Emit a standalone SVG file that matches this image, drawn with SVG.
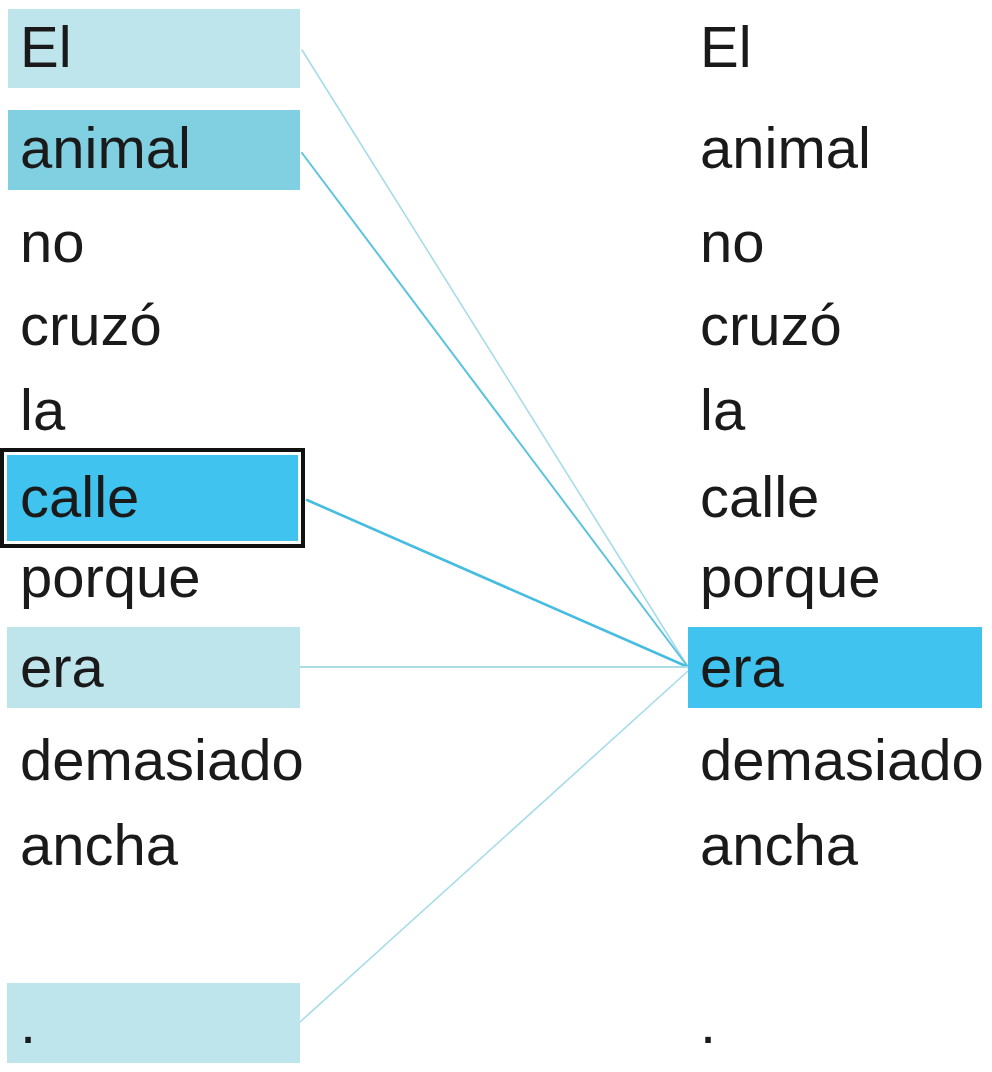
<svg xmlns="http://www.w3.org/2000/svg" width="992" height="1072" viewBox="0 0 992 1072">
<style>
text{font-family:"Liberation Sans",Arial,sans-serif;font-size:58px;fill:#1a1a1a}
.light{fill:#BEE4EC}
.mid{fill:#80D0E2}
.strong{fill:#40C4EF}
.c{fill:none;stroke-linecap:round}
</style>
<rect width="992" height="1072" fill="#ffffff"/>
<g id="connectors">
<line class="c" x1="302" y1="50" x2="688" y2="667" stroke="#A6DCEA" stroke-width="1.6"/>
<line class="c" x1="302" y1="153" x2="688" y2="667" stroke="#5EC3DE" stroke-width="2"/>
<line class="c" x1="307" y1="500" x2="688" y2="667" stroke="#45BCE0" stroke-width="2.6"/>
<line class="c" x1="300" y1="667" x2="688" y2="667" stroke="#ADDCE9" stroke-width="2"/>
<line class="c" x1="300" y1="1022" x2="688" y2="671" stroke="#A6DCEA" stroke-width="1.6"/>
</g>
<g id="left-El"><rect class="light" x="8" y="9" width="292" height="79"/><text x="20" y="67">El</text></g>
<g id="left-animal"><rect class="mid" x="8" y="110" width="292" height="80"/><text x="20" y="168">animal</text></g>
<g id="left-no"><text x="20" y="262">no</text></g>
<g id="left-cruzo"><text x="20" y="345">cruzó</text></g>
<g id="left-la"><text x="20" y="430">la</text></g>
<g id="left-calle"><rect x="2" y="450" width="301" height="96" fill="#ffffff" stroke="#111111" stroke-width="4"/><rect class="strong" x="7" y="455" width="291" height="86"/><text x="20" y="517">calle</text></g>
<g id="left-porque"><text x="20" y="597">porque</text></g>
<g id="left-era"><rect class="light" x="7" y="627" width="293" height="81"/><text x="20" y="687">era</text></g>
<g id="left-demasiado"><text x="20" y="780">demasiado</text></g>
<g id="left-ancha"><text x="20" y="865">ancha</text></g>
<g id="left-dot"><rect class="light" x="7" y="983" width="293" height="80"/><text x="20" y="1043">.</text></g>
<g id="right-El"><text x="700" y="67">El</text></g>
<g id="right-animal"><text x="700" y="168">animal</text></g>
<g id="right-no"><text x="700" y="262">no</text></g>
<g id="right-cruzo"><text x="700" y="345">cruzó</text></g>
<g id="right-la"><text x="700" y="430">la</text></g>
<g id="right-calle"><text x="700" y="517">calle</text></g>
<g id="right-porque"><text x="700" y="597">porque</text></g>
<g id="right-era"><rect class="strong" x="688" y="627" width="294" height="81"/><text x="700" y="687">era</text></g>
<g id="right-demasiado"><text x="700" y="780">demasiado</text></g>
<g id="right-ancha"><text x="700" y="865">ancha</text></g>
<g id="right-dot"><text x="700" y="1043">.</text></g>
</svg>
